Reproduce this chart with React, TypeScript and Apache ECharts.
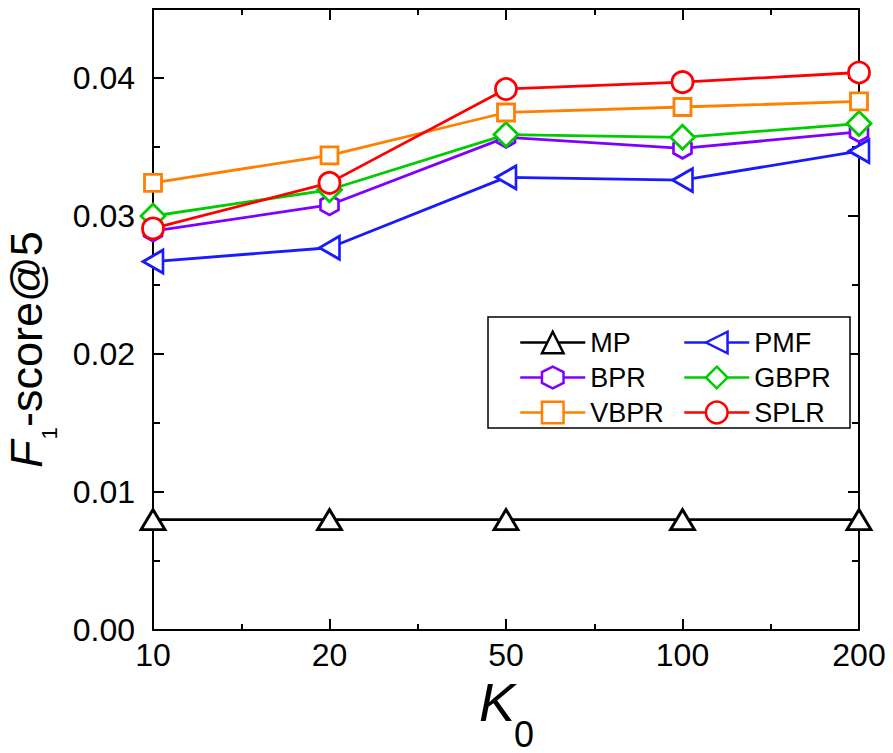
import React, { useEffect, useRef } from 'react';
import * as echarts from 'echarts';

const categories = ['10', '20', '50', '100', '200'];
const mpValues = [0.0080, 0.0080, 0.0080, 0.0080, 0.0080];
const pmfValues = [0.0267, 0.0277, 0.0328, 0.0326, 0.0347];
const bprValues = [0.0289, 0.0308, 0.0357, 0.0349, 0.0361];
const gbprValues = [0.0300, 0.0319, 0.0359, 0.0357, 0.0367];
const vbprValues = [0.0324, 0.0344, 0.0375, 0.0379, 0.0383];
const splrValues = [0.0291, 0.0324, 0.0392, 0.0397, 0.0404];

const FONT = '"Liberation Sans", Arial, sans-serif';
const HEX = 'path://M0,-1 L0.866,-0.5 L0.866,0.5 L0,1 L-0.866,0.5 L-0.866,-0.5 Z';

function mk(name: string, values: number[], color: string, symbol: string, size: any, rotate = 0) {
  return {
    type: 'line',
    name,
    data: values.map((v, i) => [i, v]),
    symbol,
    symbolSize: size,
    symbolRotate: rotate,
    showAllSymbol: true,
    lineStyle: { color, width: 2.8 },
    itemStyle: { color: '#fff', borderColor: color, borderWidth: 2.8 },
    emphasis: { disabled: true },
    z: 2,
  };
}

const tickLine = { color: '#000', width: 2 };

function xAxisDef(position: string, labels: boolean) {
  return {
    type: 'value',
    position,
    min: 0,
    max: 4,
    interval: 1,
    axisLine: { show: true, onZero: false, lineStyle: tickLine },
    axisTick: { show: true, inside: true, length: 11, lineStyle: tickLine },
    minorTick: { show: true, splitNumber: 2, length: 6, lineStyle: tickLine },
    splitLine: { show: false },
    minorSplitLine: { show: false },
    axisLabel: {
      show: labels,
      formatter: (v: number) => categories[Math.round(v)] ?? '',
      fontSize: 32,
      color: '#000',
      margin: 9,
      fontFamily: FONT,
    },
  };
}

function yAxisDef(position: string, major: boolean, labels: boolean) {
  return {
    type: 'value',
    position,
    min: 0,
    max: 0.045,
    interval: major ? 0.01 : 0.005,
    axisLine: { show: major, onZero: false, lineStyle: tickLine },
    axisTick: { show: true, inside: true, length: major ? 11 : 7, lineStyle: tickLine },
    splitLine: { show: false },
    axisLabel: {
      show: labels,
      formatter: (v: number) => {
        const k = v * 100;
        return Math.abs(k - Math.round(k)) < 1e-6 ? v.toFixed(2) : '';
      },
      fontSize: 32,
      color: '#000',
      margin: 18,
      fontFamily: FONT,
    },
  };
}

function txt(text: string, x: number, y: number, size: number, italic = false, align = 'left') {
  return {
    type: 'text',
    x,
    y,
    style: {
      text,
      fontSize: size,
      fontFamily: FONT,
      fontStyle: italic ? 'italic' : 'normal',
      fill: '#000',
      textAlign: align,
      textVerticalAlign: 'middle',
      align,
      verticalAlign: 'middle',
    },
  };
}

const legendBase = {
  orient: 'vertical',
  top: 329,
  itemWidth: 65,
  itemHeight: 27,
  itemGap: 8,
  padding: 0,
  selectedMode: false,
  z: 10,
  lineStyle: { width: 2.5 },
  itemStyle: { borderWidth: 2.5 },
  textStyle: { fontSize: 27, color: '#000', fontFamily: FONT },
};

export default function App() {
  const ref = useRef<HTMLDivElement>(null);
  useEffect(() => {
    if (!ref.current) return;
    const chart = echarts.init(ref.current, undefined, { renderer: 'svg' });
    chart.setOption({
      animation: false,
      backgroundColor: '#fff',
      grid: { left: 153, right: 34, top: 9, bottom: 123, containLabel: false },
      xAxis: [xAxisDef('bottom', true), xAxisDef('top', false)],
      yAxis: [
        yAxisDef('left', true, true),
        yAxisDef('left', false, false),
        yAxisDef('right', true, false),
        yAxisDef('right', false, false),
      ],
      legend: [
        { ...legendBase, left: 519, data: ['MP', 'BPR', 'VBPR'] },
        { ...legendBase, left: 683, data: ['PMF', 'GBPR', 'SPLR'] },
      ],
      graphic: [
        {
          type: 'rect',
          shape: { x: 488, y: 317, width: 362, height: 111 },
          style: { fill: '#fff', stroke: '#000', lineWidth: 1.5 },
          z: 3,
        },
        {
          type: 'group',
          x: 26,
          y: 468,
          rotation: Math.PI / 2,
          children: [
            txt('F', 0, 0, 45, true),
            txt('1', 28.5, 23.5, 22),
            txt('-score@5', 41, 0, 45),
          ],
        },
        txt('K', 479, 702, 54, true),
        txt('0', 514, 734, 36),
      ],
      series: [
        mk('MP', mpValues, '#000000', 'triangle', [24, 20]),
        mk('PMF', pmfValues, '#1a1aff', 'triangle', [23, 20], 90),
        mk('BPR', bprValues, '#8000ff', HEX, [18, 20]),
        mk('GBPR', gbprValues, '#00cc00', 'diamond', [24, 24]),
        mk('VBPR', vbprValues, '#ff8000', 'rect', [17, 17]),
        mk('SPLR', splrValues, '#ff0000', 'circle', 21),
      ],
    });
    return () => chart.dispose();
  }, []);
  return (
    <div
      ref={ref}
      style={{ position: 'fixed', left: 0, top: 0, width: 893, height: 753, background: '#fff' }}
    />
  );
}
